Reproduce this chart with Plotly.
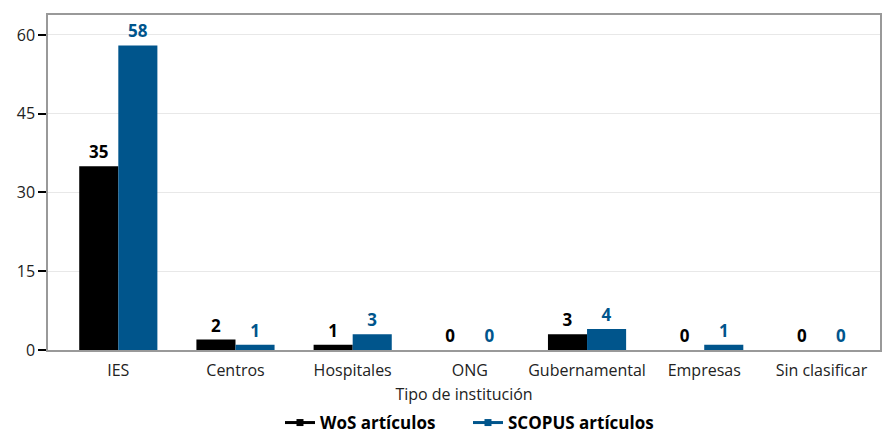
import plotly.graph_objects as go

categories = ["IES", "Centros", "Hospitales", "ONG", "Gubernamental", "Empresas", "Sin clasificar"]
wos = [35, 2, 1, 0, 3, 0, 0]
scopus = [58, 1, 3, 0, 4, 1, 0]
series_names = ["WoS artículos", "SCOPUS artículos"]
colors = ["#000000", "#00558C"]
yticks = [0, 15, 30, 45, 60]

fig = go.Figure()
for name, vals, c in zip(series_names, [wos, scopus], colors):
    fig.add_trace(go.Bar(
        x=categories, y=vals, name=name, marker=dict(color=c, line=dict(width=0)),
        text=[str(v) for v in vals], textposition="outside", cliponaxis=False,
        textfont=dict(color=c, size=17, family="Open Sans", weight="bold"),
        showlegend=False))
for name, c in zip(series_names, colors):
    fig.add_trace(go.Scatter(
        x=[None], y=[None], mode="lines+markers", name=name,
        line=dict(color=c, width=3), marker=dict(symbol="square", size=7, color=c)))

fig.update_layout(
    width=883, height=433,
    margin=dict(l=48, r=3, t=15, b=83),
    plot_bgcolor="white", paper_bgcolor="white",
    font=dict(family="Open Sans", size=16, color="#222222"),
    barmode="group", bargap=0.333, bargroupgap=0,
    legend=dict(orientation="h", x=0.53, xanchor="center", xref="container",
                y=10 / 433, yanchor="middle", yref="container",
                entrywidth=143, entrywidthmode="pixels",
                font=dict(size=17, weight="bold", color="#000000")),
    xaxis=dict(title=dict(text="Tipo de institución", standoff=14, font=dict(size=16)),
               range=[-0.6, 6.5], showline=True, linecolor="#999999", linewidth=1.5,
               mirror=True, ticks="", tickfont=dict(size=16), ticklabelstandoff=5,
               automargin=False),
    yaxis=dict(range=[0, 63.8], tickvals=yticks, showgrid=True, gridcolor="#E8E8E8",
               showline=True, linecolor="#999999", linewidth=1.5, mirror=True,
               ticks="outside", ticklen=8, tickcolor="#000000", tickwidth=1.5,
               tickfont=dict(size=16), zeroline=False, automargin=False),
)
fig.write_html("out.html", config={"displayModeBar": False},
               post_script="document.body.style.margin='0';")
